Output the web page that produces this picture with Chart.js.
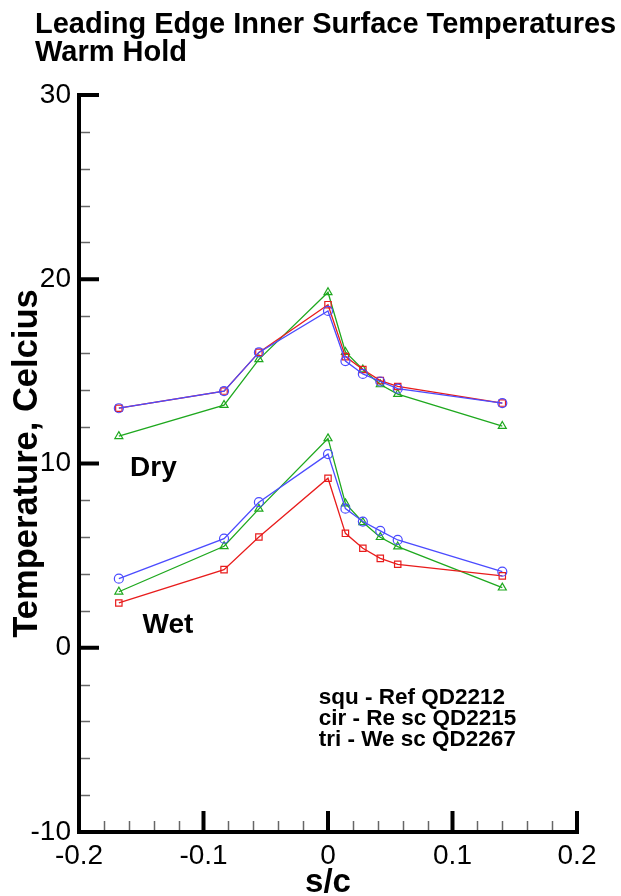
<!DOCTYPE html>
<html>
<head>
<meta charset="utf-8">
<script src="https://cdn.jsdelivr.net/npm/chart.js@4.4.0/dist/chart.umd.min.js"></script>
<style>
  html, body { margin: 0; padding: 0; background: #fff; }
  #wrap { width: 621px; height: 896px; }
</style>
</head>
<body>
<div id="wrap"><canvas id="chart" width="621" height="896"></canvas></div>
<script>
// s/c stations
const sc = [-0.168, -0.0835, -0.0555, 0, 0.014, 0.028, 0.042, 0.056, 0.14];

// dry runs
const dryRef = [13.0, 13.93, 16.03, 18.62, 15.8, 15.1, 14.5, 14.18, 13.28];
const dryRe = [13.0, 13.93, 16.03, 18.28, 15.56, 14.86, 14.45, 14.06, 13.28];
const dryWe = [11.48, 13.17, 15.65, 19.29, 16.05, 15.1, 14.29, 13.77, 12.03];

// wet runs
const wetRef = [2.43, 4.24, 6.01, 9.2, 6.21, 5.4, 4.85, 4.53, 3.9];
const wetRe = [3.75, 5.92, 7.9, 10.51, 7.55, 6.85, 6.34, 5.85, 4.13];
const wetWe = [3.04, 5.51, 7.54, 11.36, 7.83, 6.81, 6.0, 5.49, 3.26];

const xTicks = [-0.2, -0.1, 0, 0.1, 0.2];
const yTicks = [-10, 0, 10, 20, 30];

const titleLines = ["Leading Edge Inner Surface Temperatures", "Warm Hold"];
const legendLines = ["squ - Ref QD2212", "cir - Re sc QD2215", "tri - We sc QD2267"];

const FONT = "'Liberation Sans', Arial, Helvetica, sans-serif";
const RED = "#e81c1c";
const BLUE = "#4b4bff";
const GREEN = "#1ea81e";

function pts(ys) {
  return sc.map((x, i) => ({ x: x, y: ys[i] }));
}

function series(label, ys, color, shape, r) {
  return {
    label: label,
    data: pts(ys),
    showLine: true,
    borderColor: color,
    backgroundColor: "rgba(0,0,0,0)",
    borderWidth: 1.3,
    pointStyle: shape,
    pointRadius: r,
    pointHoverRadius: r,
    pointBorderWidth: 1.2,
    pointBorderColor: color,
    pointBackgroundColor: "rgba(0,0,0,0)",
  };
}

// axes, inward ticks and text drawn on top
const decor = {
  id: "decor",
  afterDraw(chart) {
    const ctx = chart.ctx;
    const xs = chart.scales.x;
    const ys = chart.scales.y;
    const a = chart.chartArea;
    ctx.save();

    // minor ticks
    ctx.strokeStyle = "#666";
    ctx.lineWidth = 1.5;
    for (let v = -10; v <= 30; v += 2) {
      if (v % 10 === 0) continue;
      const py = Math.round(ys.getPixelForValue(v)) + 0.5;
      ctx.beginPath();
      ctx.moveTo(a.left, py);
      ctx.lineTo(a.left + 11, py);
      ctx.stroke();
    }
    for (let i = -10; i <= 10; i++) {
      if (i % 5 === 0) continue;
      const px = Math.round(xs.getPixelForValue(i * 0.02)) + 0.5;
      ctx.beginPath();
      ctx.moveTo(px, a.bottom);
      ctx.lineTo(px, a.bottom - 11);
      ctx.stroke();
    }

    // major ticks
    ctx.strokeStyle = "#000";
    ctx.lineWidth = 4;
    yTicks.forEach(v => {
      const py = ys.getPixelForValue(v);
      ctx.beginPath();
      ctx.moveTo(a.left - 2, py);
      ctx.lineTo(a.left + 20, py);
      ctx.stroke();
    });
    xTicks.forEach(v => {
      const px = xs.getPixelForValue(v);
      ctx.beginPath();
      ctx.moveTo(px, a.bottom + 2);
      ctx.lineTo(px, a.bottom - 21);
      ctx.stroke();
    });

    // axis lines
    ctx.beginPath();
    ctx.moveTo(a.left, a.top - 2);
    ctx.lineTo(a.left, a.bottom + 2);
    ctx.moveTo(a.left - 2, a.bottom);
    ctx.lineTo(a.right + 2, a.bottom);
    ctx.stroke();

    // title
    ctx.fillStyle = "#000";
    ctx.textAlign = "left";
    ctx.textBaseline = "alphabetic";
    ctx.font = "bold 29px " + FONT;
    ctx.fillText(titleLines[0], 35, 33);
    ctx.fillText(titleLines[1], 35, 61);

    // Dry / Wet labels
    ctx.font = "bold 28px " + FONT;
    ctx.fillText("Dry", xs.getPixelForValue(-0.159), ys.getPixelForValue(9.3));
    ctx.fillText("Wet", xs.getPixelForValue(-0.149), ys.getPixelForValue(0.8));

    // legend note
    ctx.font = "bold 22.5px " + FONT;
    const lx = xs.getPixelForValue(-0.0075);
    const ly = ys.getPixelForValue(-3.05);
    legendLines.forEach((t, i) => ctx.fillText(t, lx, ly + i * 21));

    ctx.restore();
  }
};

new Chart(document.getElementById("chart"), {
  type: "scatter",
  data: {
    datasets: [
      series("Dry cir", dryRe, BLUE, "circle", 4.5),
      series("Dry squ", dryRef, RED, "rect", 4.5),
      series("Dry tri", dryWe, GREEN, "triangle", 4.6),
      series("Wet cir", wetRe, BLUE, "circle", 4.5),
      series("Wet squ", wetRef, RED, "rect", 4.5),
      series("Wet tri", wetWe, GREEN, "triangle", 4.6),
    ],
  },
  options: {
    responsive: false,
    animation: false,
    devicePixelRatio: 1,
    layout: {
      padding: { top: 95, right: 44, left: 0, bottom: 0 },
    },
    plugins: {
      legend: { display: false },
      tooltip: { enabled: false },
    },
    scales: {
      x: {
        type: "linear",
        min: -0.2,
        max: 0.2,
        afterBuildTicks: s => { s.ticks = xTicks.map(v => ({ value: v })); },
        afterFit: s => { s.height = 64; },
        grid: { display: false, drawTicks: false, tickLength: 0 },
        border: { display: false },
        ticks: {
          color: "#000",
          font: { family: FONT, size: 28 },
          padding: 7,
          maxRotation: 0,
          autoSkip: false,
          callback: v => String(Math.round(v * 10) / 10),
        },
        title: {
          display: true,
          text: "s/c",
          color: "#000",
          font: { family: FONT, size: 33, weight: "bold", lineHeight: 1.0 },
          padding: { top: 0, bottom: -3 },
        },
      },
      y: {
        min: -10,
        max: 30,
        afterBuildTicks: s => { s.ticks = yTicks.map(v => ({ value: v })); },
        afterFit: s => { s.width = 79; },
        grid: { display: false, drawTicks: false, tickLength: 0 },
        border: { display: false },
        ticks: {
          color: "#000",
          font: { family: FONT, size: 28 },
          padding: 8,
          autoSkip: false,
        },
        title: {
          display: true,
          text: "Temperature, Celcius",
          color: "#000",
          font: { family: FONT, size: 34.5, weight: "bold" },
          padding: { top: 7, bottom: 0 },
        },
      },
    },
  },
  plugins: [decor],
});
</script>
</body>
</html>
